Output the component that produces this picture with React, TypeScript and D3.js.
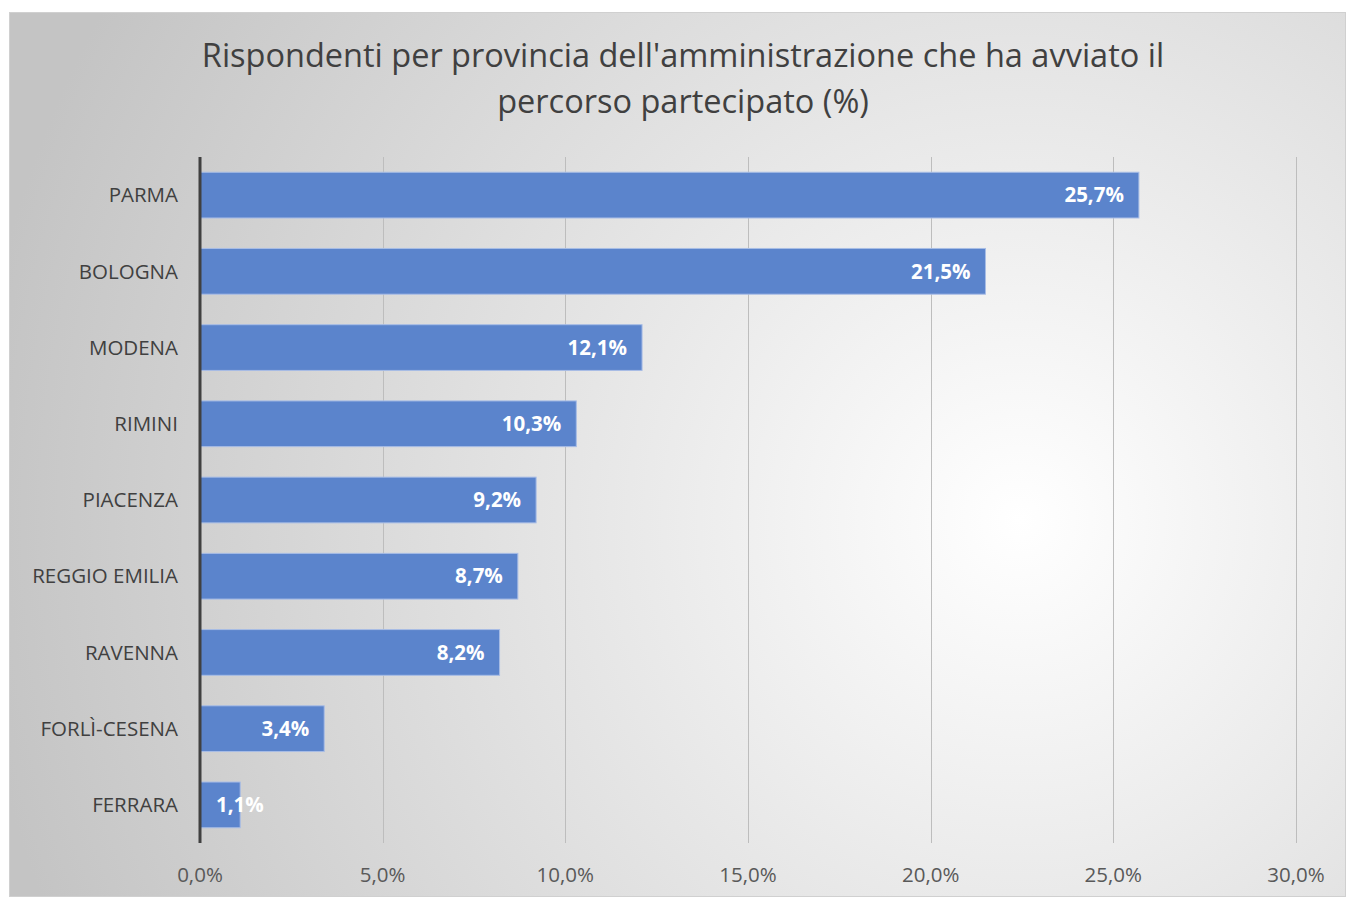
import React, { useEffect, useRef } from 'react';
import * as d3 from 'd3';

const categories = ['PARMA', 'BOLOGNA', 'MODENA', 'RIMINI', 'PIACENZA', 'REGGIO EMILIA', 'RAVENNA', 'FORLÌ-CESENA', 'FERRARA'];
const values = [25.7, 21.5, 12.1, 10.3, 9.2, 8.7, 8.2, 3.4, 1.1];
const xTicks = [0, 5, 10, 15, 20, 25, 30];
const titleLines = ["Rispondenti per provincia dell'amministrazione che ha avviato il", 'percorso partecipato (%)'];

const fmt = (v: number) => v.toFixed(1).replace('.', ',') + '%';

export default function App() {
  const ref = useRef<SVGSVGElement>(null);

  useEffect(() => {
    const W = 1347, H = 899;
    const svg = d3.select(ref.current);
    svg.selectAll('*').remove();
    const font = "'Open Sans', sans-serif";

    const defs = svg.append('defs');
    const grad = defs.append('radialGradient')
      .attr('id', 'bg')
      .attr('gradientUnits', 'userSpaceOnUse')
      .attr('cx', 1020).attr('cy', 520).attr('r', 1050);
    grad.append('stop').attr('offset', '0%').attr('stop-color', '#ffffff');
    grad.append('stop').attr('offset', '100%').attr('stop-color', '#c4c4c4');

    // chart frame
    svg.append('rect')
      .attr('x', 9.5).attr('y', 12.5)
      .attr('width', W - 11).attr('height', H - 15)
      .attr('fill', 'url(#bg)')
      .attr('stroke', '#d0d0d0');

    const margin = { top: 157, left: 200, right: 51, bottom: 56 };
    const x = d3.scaleLinear().domain([0, 30]).range([margin.left, W - margin.right]);
    const y = d3.scaleBand().domain(categories).range([margin.top, H - margin.bottom]).paddingInner(0.4).paddingOuter(0.2);

    // title
    svg.append('g').selectAll('text')
      .data(titleLines)
      .enter().append('text')
      .attr('x', 683)
      .attr('y', (d, i) => 67 + i * 46)
      .attr('text-anchor', 'middle')
      .attr('font-family', font)
      .attr('font-size', 32.5)
      .attr('fill', '#404040')
      .text(d => d);

    // grid
    svg.append('g').selectAll('line')
      .data(xTicks.slice(1))
      .enter().append('line')
      .attr('x1', d => Math.round(x(d)) + 0.5).attr('x2', d => Math.round(x(d)) + 0.5)
      .attr('y1', margin.top).attr('y2', H - margin.bottom)
      .attr('stroke', '#bdbdbd')
      .attr('stroke-width', 1);

    // tick labels
    svg.append('g').selectAll('text')
      .data(xTicks)
      .enter().append('text')
      .attr('x', d => x(d))
      .attr('y', 882)
      .attr('text-anchor', 'middle')
      .attr('font-family', font)
      .attr('font-size', 20.5)
      .attr('fill', '#595959')
      .text(d => fmt(d));

    // bars
    svg.append('g').selectAll('rect')
      .data(values)
      .enter().append('rect')
      .attr('x', x(0))
      .attr('y', (d, i) => y(categories[i])!)
      .attr('width', d => x(d) - x(0))
      .attr('height', y.bandwidth())
      .attr('fill', '#5b84cc')
      .attr('stroke', '#a8bde6')
      .attr('stroke-width', 1);

    // data labels
    svg.append('g').selectAll('text')
      .data(values)
      .enter().append('text')
      .attr('x', d => (x(d) - x(0) < 70 ? x(0) + 16 : x(d) - 15))
      .attr('y', (d, i) => y(categories[i])! + y.bandwidth() / 2)
      .attr('dy', '0.35em')
      .attr('text-anchor', d => (x(d) - x(0) < 70 ? 'start' : 'end'))
      .attr('font-family', font)
      .attr('font-size', 20.5)
      .attr('font-weight', 'bold')
      .attr('fill', '#ffffff')
      .text(d => fmt(d));

    // category labels
    svg.append('g').selectAll('text')
      .data(categories)
      .enter().append('text')
      .attr('x', 178)
      .attr('y', d => y(d)! + y.bandwidth() / 2)
      .attr('dy', '0.35em')
      .attr('text-anchor', 'end')
      .attr('font-family', font)
      .attr('font-size', 20.5)
      .attr('fill', '#404040')
      .text(d => d);

    // vertical axis line
    svg.append('line')
      .attr('x1', x(0)).attr('x2', x(0))
      .attr('y1', margin.top).attr('y2', H - margin.bottom)
      .attr('stroke', '#404040')
      .attr('stroke-width', 3);
  }, []);

  return (
    <svg ref={ref} width={1347} height={899} style={{ position: 'absolute', left: 0, top: 0, background: '#fff' }} />
  );
}
